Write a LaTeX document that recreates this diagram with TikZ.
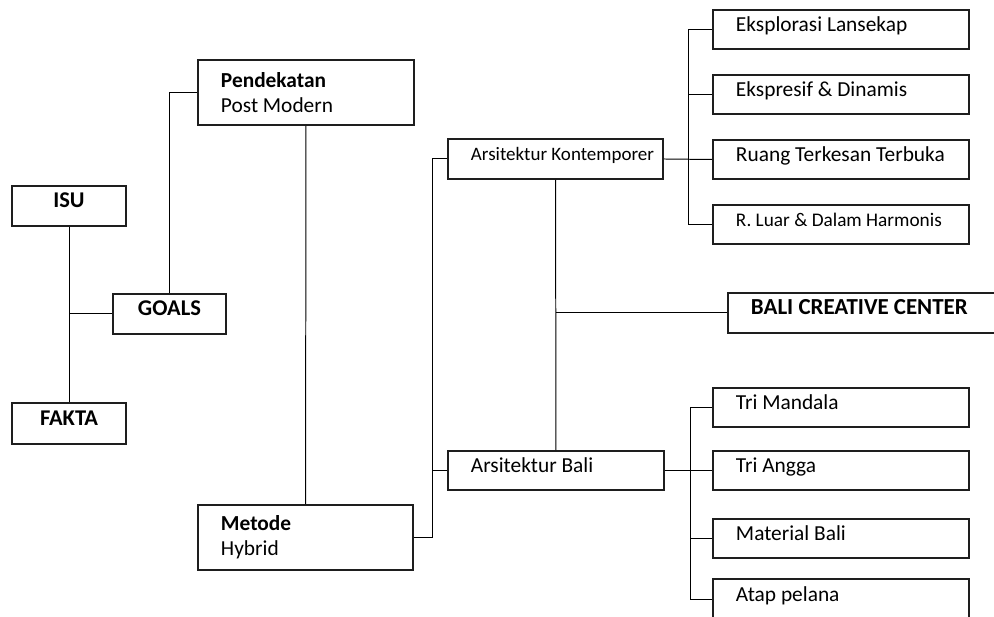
\documentclass[tikz,border=0pt]{standalone}
\usepackage{fontspec}
\setmainfont{Carlito}
\usepackage{tikz}
\usetikzlibrary{positioning}
\definecolor{boxline}{RGB}{30, 30, 30}

\tikzset{
    box/.style={draw=boxline, line width=1.4pt, rectangle, anchor=north west, inner ysep=0pt, font=\fontsize{15.2}{17.6}\selectfont},
    oneline/.style={text height=0.75em, text depth=0.52em},
    notebox/.style={box, inner xsep=0pt, align=flush left, execute at begin node={\leftskip=0.575cm}},
    leftbox/.style={notebox, oneline},
    headbox/.style={box, oneline, align=center, font=\fontsize{16}{19}\selectfont\bfseries},
    link/.style={draw=black, line width=0.7pt},
}

\begin{document}
\begin{tikzpicture}[x=0.025cm, y=-0.025cm]
    \useasboundingbox (0,0) rectangle (994,617);

    % kiri
    \node[headbox, minimum width=2.85cm, minimum height=1cm] (isu) at (11,185) {ISU};
    \node[headbox, minimum width=2.85cm, minimum height=1.025cm] (fakta) at (11,402) {FAKTA};
    \node[headbox, minimum width=2.825cm, minimum height=1cm] (goals) at (112,293) {GOALS};

    \node[notebox, text width=5.4cm, minimum height=1.625cm] (pendekatan) at (197,59) {\textbf{Pendekatan}\\Post Modern};
    \node[notebox, text width=5.375cm, minimum height=1.625cm] (metode) at (197,504) {\textbf{Metode}\\Hybrid};

    % tengah
    \node[leftbox, text width=5.375cm, minimum height=1cm, font=\fontsize{13.5}{16}\selectfont] (kontemporer) at (447,138) {Arsitektur Kontemporer};
    \node[leftbox, text width=5.4cm, minimum height=0.975cm] (bali) at (447,450) {Arsitektur Bali};
    \node[leftbox, text width=7cm, minimum height=1cm, font=\fontsize{16.3}{19}\selectfont\bfseries] (bcc) at (727,292) {BALI CREATIVE CENTER};

    % kanan atas
    \node[leftbox, text width=6.4cm, minimum height=0.975cm] (eksplorasi) at (712,9) {Eksplorasi Lansekap};
    \node[leftbox, text width=6.4cm, minimum height=0.975cm] (ekspresif) at (712,74) {Ekspresif \& Dinamis};
    \node[leftbox, text width=6.4cm, minimum height=0.975cm] (ruang) at (712,139) {Ruang Terkesan Terbuka};
    \node[leftbox, text width=6.4cm, minimum height=0.975cm, font=\fontsize{13.7}{16}\selectfont] (harmonis) at (712,204) {R. Luar \& Dalam Harmonis};

    % kanan bawah
    \node[leftbox, text width=6.4cm, minimum height=0.975cm] (mandala) at (712,387) {Tri Mandala};
    \node[leftbox, text width=6.4cm, minimum height=0.975cm] (angga) at (712,450) {Tri Angga};
    \node[leftbox, text width=6.4cm, minimum height=0.975cm] (material) at (712,518) {Material Bali};
    \node[leftbox, text width=6.4cm, minimum height=1.025cm] (atap) at (712,578) {Atap pelana};

    % garis
    \draw[link] (isu) -- (fakta);
    \draw[link] (goals.west) -- (goals.west -| isu.south);
    \draw[link] (goals.north) |- (pendekatan.west);
    \draw[link] (pendekatan) -- (metode);
    \draw[link] (metode.east) -| ([xshift=-0.375cm]kontemporer.west) -- (kontemporer.west);
    \draw[link] (bali.west) -- ++(-15,0);
    \draw[link] (kontemporer) -- (bali);
    \draw[link] (bcc.west) -- (bcc.west -| kontemporer.south);

    \draw[link] (eksplorasi.west) -| ([xshift=-0.6cm]harmonis.west) -- (harmonis.west);
    \draw[link] (ekspresif.west) -- ++(-24,0);
    \draw[link] (kontemporer.east) -- (ruang.west);

    \draw[link] (mandala.west) -| ([xshift=-0.55cm]atap.west) -- (atap.west);
    \draw[link] (material.west) -- ++(-22,0);
    \draw[link] (bali.east) -- (angga.west);
\end{tikzpicture}
\end{document}
